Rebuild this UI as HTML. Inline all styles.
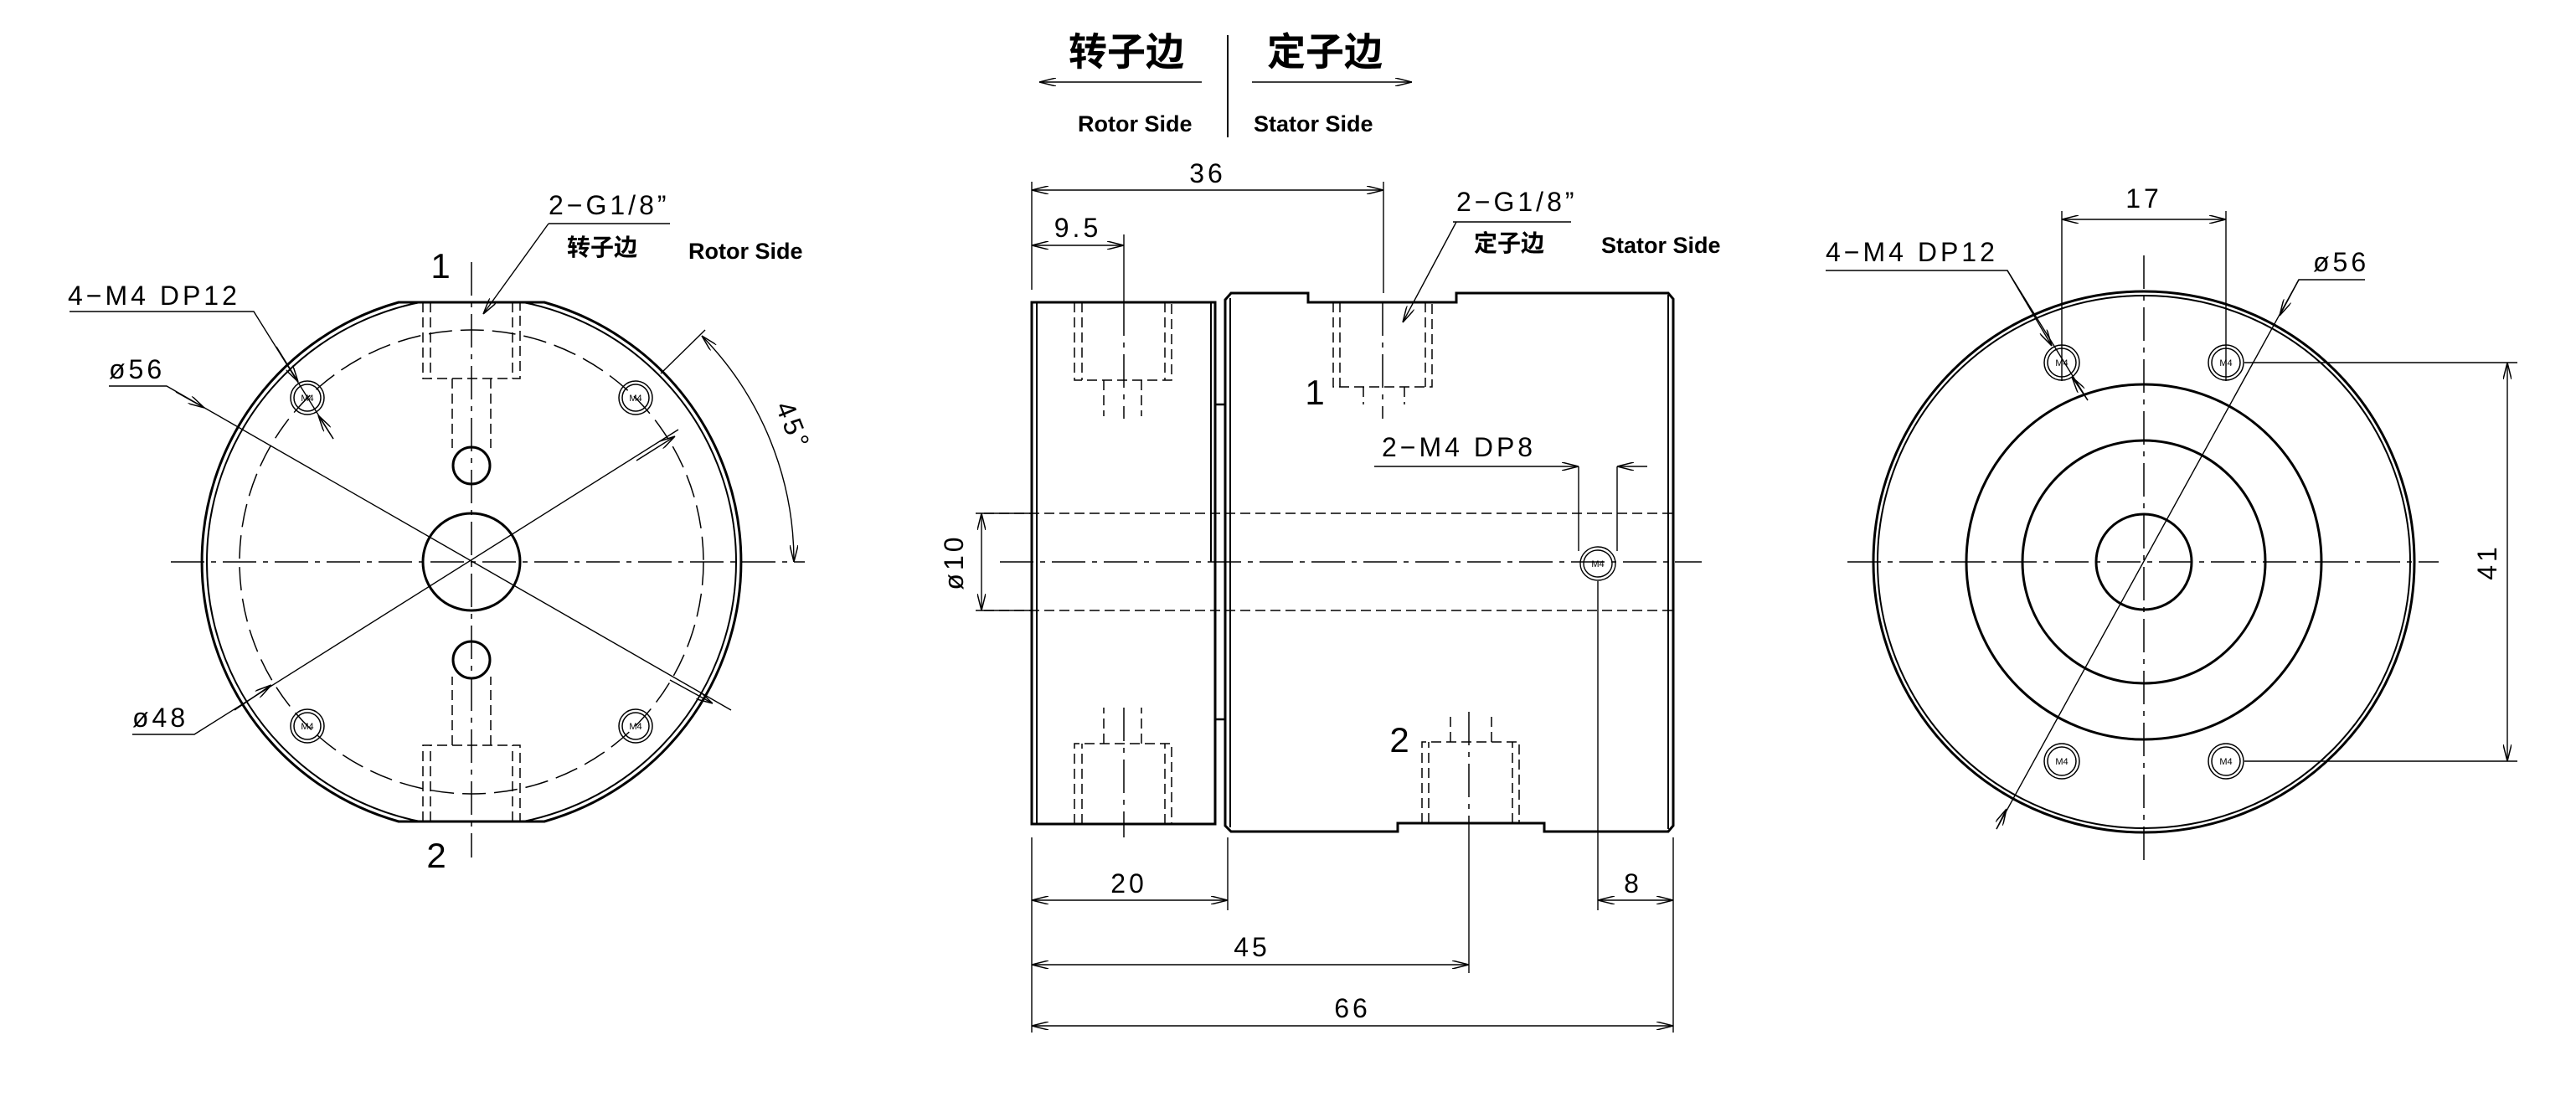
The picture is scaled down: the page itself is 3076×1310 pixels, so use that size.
<!DOCTYPE html>
<html><head><meta charset="utf-8"><style>
html,body{margin:0;padding:0;background:#fff}
svg{display:block}
text{font-family:"Liberation Sans","Noto Sans CJK SC",sans-serif;fill:#000}
.t{font-size:32px;letter-spacing:4px}
.b{font-weight:bold}
</style></head><body>
<svg width="3076" height="1310" viewBox="0 0 3076 1310" xmlns="http://www.w3.org/2000/svg">
<defs>
<marker id="a" viewBox="0 0 20 10" refX="20" refY="5" markerWidth="20" markerHeight="10" markerUnits="userSpaceOnUse" orient="auto-start-reverse">
<path d="M0,0 L20,5 L0,10" fill="none" stroke="#000" stroke-width="1.5"/></marker>
<clipPath id="lc"><rect x="0" y="361" width="1200" height="620"/></clipPath>
</defs>
<g fill="none" stroke="#000">
<path d="M476,361 L650,361 A322,322 0 0 1 650,981 L476,981 A322,322 0 0 1 476,361 Z" stroke-width="3"/>
<circle cx="563" cy="671" r="316" stroke-width="2" clip-path="url(#lc)"/>
<circle cx="563" cy="671" r="277" stroke-width="1.5" stroke-dasharray="28 10"/>
<circle cx="563" cy="671" r="58" stroke-width="3"/>
<circle cx="563" cy="556" r="22" stroke-width="3"/>
<circle cx="563" cy="788" r="22" stroke-width="3"/>
<g stroke-width="1.5">
<circle cx="367" cy="475" r="20"/><circle cx="367" cy="475" r="16"/>
<circle cx="759" cy="475" r="20"/><circle cx="759" cy="475" r="16"/>
<circle cx="367" cy="867" r="20"/><circle cx="367" cy="867" r="16"/>
<circle cx="759" cy="867" r="20"/><circle cx="759" cy="867" r="16"/>
</g>
<g stroke-width="1.5" stroke-dasharray="12 6">
<path d="M505,361 V452 H621 V361 M514,361 V452 M612,361 V452"/>
<path d="M540,452 V535 M586,452 V535"/>
<path d="M505,981 V890 H621 V981 M514,981 V890 M612,981 V890"/>
<path d="M540,890 V808 M586,890 V808"/>
</g>
<g stroke-width="1.5" stroke-dasharray="40 8 6 8">
<path d="M563,313 V1024"/>
<path d="M204,671 H961"/>
</g>
<g stroke-width="1.4">
<path d="M130,461 H199 L873,848" />
<path d="M158,877 H232 L810,513"/>
<path d="M83,372 H303 L398,524"/>
<path d="M789,446 L842,394"/>
<path d="M655,267 H800"/>
</g>
<g stroke-width="1.4">
<line x1="210" y1="468" x2="244" y2="487" marker-end="url(#a)"/>
<line x1="800" y1="812" x2="851" y2="840" marker-end="url(#a)"/>
<line x1="280" y1="848" x2="324" y2="818" marker-end="url(#a)"/>
<line x1="760" y1="550" x2="806" y2="521" marker-end="url(#a)"/>
<line x1="330" y1="414" x2="356" y2="456" marker-end="url(#a)"/>
<line x1="398" y1="524" x2="380" y2="496" marker-end="url(#a)"/>
<line x1="655" y1="267" x2="577" y2="375" marker-end="url(#a)"/>
<path d="M838,401 A385,385 0 0 1 948,671" marker-start="url(#a)" marker-end="url(#a)"/>
</g>
<g stroke-width="1.5">
<path d="M1241,98 H1435" marker-start="url(#a)"/>
<path d="M1495,98 H1686" marker-end="url(#a)"/>
<path d="M1466,42 V164" stroke-width="2"/>
</g>
<path d="M1232,361 H1451 V984 H1232 Z" stroke-width="3"/>
<path d="M1238,361 V984 M1446,361 V671" stroke-width="2"/>
<path d="M1451,483 H1463 M1451,859 H1463" stroke-width="2.5"/>
<path d="M1463,358 L1470,350 L1562,350 L1562,361 L1739,361 L1739,350 L1992,350 L1998,357 L1998,986 L1992,993 L1844,993 L1844,983 L1669,983 L1669,993 L1470,993 L1463,986 Z" stroke-width="3"/>
<path d="M1469,356 V988 M1992,352 V990" stroke-width="2"/>
<g stroke-width="1.5" stroke-dasharray="12 6">
<path d="M1283,361 V454 H1399 V361 M1292,361 V454 M1391,361 V454"/>
<path d="M1318,454 V497 M1363,454 V497"/>
<path d="M1283,984 V888 H1399 V984 M1292,984 V888 M1391,984 V888"/>
<path d="M1318,888 V845 M1363,888 V845"/>
<path d="M1592,361 V462 H1710 V361 M1600,361 V462 M1702,361 V462"/>
<path d="M1628,462 V483 M1677,462 V483"/>
<path d="M1698,983 V886 H1814 V983 M1706,983 V886 M1806,983 V886"/>
<path d="M1732,886 V854 M1781,886 V854"/>
<path d="M1175,613 H1998 M1175,729 H1998"/>
</g>
<g stroke-width="1.5" stroke-dasharray="40 8 6 8">
<path d="M1194,671 H2032"/>
<path d="M1342,361 V500 M1342,845 V1000"/>
<path d="M1651,361 V500"/>
<path d="M1754,850 V983"/>
</g>
<g stroke-width="1.4">
<path d="M1232,217 V346 M1652,217 V350 M1342,280 V361"/>
<path d="M1754,983 V1162 M1908,694 V1087 M1998,1000 V1233 M1466,1000 V1087 M1232,1000 V1233"/>
<path d="M1165,613 H1232 M1165,729 H1232"/>
<line x1="1232" y1="227" x2="1652" y2="227" marker-start="url(#a)" marker-end="url(#a)"/>
<line x1="1232" y1="293" x2="1342" y2="293" marker-start="url(#a)" marker-end="url(#a)"/>
<line x1="1172" y1="613" x2="1172" y2="729" marker-start="url(#a)" marker-end="url(#a)"/>
<line x1="1232" y1="1075" x2="1466" y2="1075" marker-start="url(#a)" marker-end="url(#a)"/>
<line x1="1908" y1="1075" x2="1998" y2="1075" marker-start="url(#a)" marker-end="url(#a)"/>
<line x1="1232" y1="1152" x2="1754" y2="1152" marker-start="url(#a)" marker-end="url(#a)"/>
<line x1="1232" y1="1225" x2="1998" y2="1225" marker-start="url(#a)" marker-end="url(#a)"/>
<path d="M1641,557 H1885" marker-end="url(#a)"/>
<path d="M1967,557 H1931" marker-end="url(#a)"/>
<path d="M1885,557 V658 M1931,557 V658"/>
<ellipse cx="1908" cy="673" rx="21" ry="20"/>
<ellipse cx="1908" cy="673" rx="17" ry="16"/>
<path d="M1735,265 H1876"/>
<line x1="1739" y1="265" x2="1675" y2="385" marker-end="url(#a)"/>
</g>
<circle cx="2560" cy="671" r="323" stroke-width="3"/>
<circle cx="2560" cy="671" r="318" stroke-width="2"/>
<circle cx="2560" cy="671" r="212" stroke-width="3"/>
<circle cx="2560" cy="671" r="145" stroke-width="3"/>
<circle cx="2560" cy="671" r="57" stroke-width="3"/>
<g stroke-width="1.5">
<circle cx="2462" cy="433" r="21"/><circle cx="2462" cy="433" r="17"/>
<circle cx="2658" cy="433" r="21"/><circle cx="2658" cy="433" r="17"/>
<circle cx="2462" cy="909" r="21"/><circle cx="2462" cy="909" r="17"/>
<circle cx="2658" cy="909" r="21"/><circle cx="2658" cy="909" r="17"/>
</g>
<g stroke-width="1.5" stroke-dasharray="40 8 6 8">
<path d="M2560,305 V1034"/>
<path d="M2206,671 H2912"/>
</g>
<g stroke-width="1.4">
<path d="M2462,252 V455 M2658,252 V455"/>
<line x1="2462" y1="262" x2="2658" y2="262" marker-start="url(#a)" marker-end="url(#a)"/>
<path d="M2680,433 H3006 M2680,909 H3006"/>
<line x1="2994" y1="433" x2="2994" y2="909" marker-start="url(#a)" marker-end="url(#a)"/>
<path d="M2824,334 H2745 L2384,990"/>
<line x1="2745" y1="334" x2="2722" y2="377" marker-end="url(#a)"/>
<line x1="2384" y1="990" x2="2396" y2="966" marker-end="url(#a)"/>
<path d="M2180,323 H2397 L2493,478"/>
<line x1="2397" y1="323" x2="2450" y2="413" marker-end="url(#a)"/>
<line x1="2493" y1="478" x2="2474" y2="450" marker-end="url(#a)"/>
</g>
</g>
<g class="t">
<text x="81" y="364">4−M4 DP12</text>
<text x="130" y="452">ø56</text>
<text x="158" y="868">ø48</text>
<text x="655" y="256">2−G1/8”</text>
<text x="937" y="513" transform="rotate(68 937 513)" text-anchor="middle">45°</text>
<text x="528" y="332" text-anchor="middle" font-size="42">1</text>
<text x="523" y="1036" text-anchor="middle" font-size="42">2</text>
<text x="1442" y="218" text-anchor="middle">36</text>
<text x="1287" y="283" text-anchor="middle">9.5</text>
<text x="1150" y="671" text-anchor="middle" transform="rotate(-90 1150 671)">ø10</text>
<text x="1650" y="545">2−M4 DP8</text>
<text x="1739" y="252">2−G1/8”</text>
<text x="1348" y="1066" text-anchor="middle">20</text>
<text x="1950" y="1066" text-anchor="middle">8</text>
<text x="1495" y="1142" text-anchor="middle">45</text>
<text x="1615" y="1215" text-anchor="middle">66</text>
<text x="1572" y="483" text-anchor="middle" font-size="42">1</text>
<text x="1673" y="898" text-anchor="middle" font-size="42">2</text>
<text x="2560" y="248" text-anchor="middle">17</text>
<text x="2762" y="324">ø56</text>
<text x="2180" y="312">4−M4 DP12</text>
<text x="2981" y="671" text-anchor="middle" transform="rotate(-90 2981 671)">41</text>
</g>
<g class="b">
<text x="677" y="305" font-size="28">转子边</text>
<text x="822" y="309" font-size="27">Rotor Side</text>
<text x="1760" y="300" font-size="28">定子边</text>
<text x="1912" y="302" font-size="27">Stator Side</text>
<text x="1276" y="78" font-size="46">转子边</text>
<text x="1513" y="78" font-size="46">定子边</text>
<text x="1287" y="157" font-size="27">Rotor Side</text>
<text x="1497" y="157" font-size="27">Stator Side</text>
</g>
<g font-size="11" text-anchor="middle">
<text x="367" y="479">M4</text><text x="759" y="479">M4</text><text x="367" y="871">M4</text><text x="759" y="871">M4</text>
<text x="1908" y="677">M4</text>
<text x="2462" y="437">M4</text><text x="2658" y="437">M4</text><text x="2462" y="913">M4</text><text x="2658" y="913">M4</text>
</g>
</svg>
</body></html>
